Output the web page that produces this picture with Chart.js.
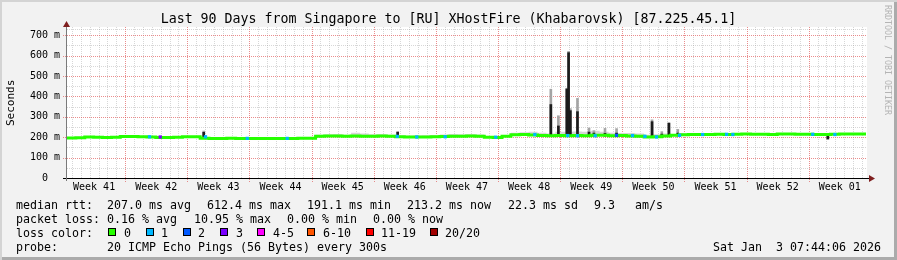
<!DOCTYPE html>
<html lang="en">
<head>
<meta charset="utf-8">
<title>Last 90 Days from Singapore to [RU] XHostFire (Khabarovsk)</title>
<script src="https://cdn.jsdelivr.net/npm/chart.js@4.4.1/dist/chart.umd.min.js"></script>
<style>
  html, body { margin: 0; padding: 0; background: #f2f2f2; }
  #frame {
    position: relative; width: 897px; height: 260px; overflow: hidden;
    background: #f2f2f2;
    box-shadow: inset 2px 2px 0 #d4d4d4, inset -3px -3px 0 #ababab;
    font-family: "DejaVu Sans Mono", monospace; color: #000;
  }
  #chart { position: absolute; left: 0; top: 0; }
  .txt { position: absolute; white-space: pre; font-size: 11.63px; line-height: 14px; }
  #title { position: absolute; left: 0; top: 11px; width: 897px; text-align: center;
           font-size: 13.29px; line-height: 16px; white-space: pre; }
  #ylabel { position: absolute; left: 5px; top: 80px; height: 46px; font-size: 11px; line-height: 12px;
            color: #000; font-weight: normal; white-space: pre;
            writing-mode: vertical-rl; transform: rotate(180deg); }
  #credit { position: absolute; left: 883px; top: 5px; font-size: 8.3px; line-height: 10px;
            color: #b4b4b4; white-space: pre; writing-mode: vertical-rl; }
  .box { position: absolute; width: 8px; height: 8px; box-sizing: border-box; border: 1px solid #000; }
</style>
</head>
<body>
<div id="frame">
  <canvas id="chart" width="897" height="260"></canvas>
  <div id="title">Last 90 Days from Singapore to [RU] XHostFire (Khabarovsk) [87.225.45.1]</div>
  <div id="ylabel">Seconds</div>
  <div id="credit">RRDTOOL / TOBI OETIKER</div>
</div>
<script>
// --- data (x = days since start of the 90 day window, y = milliseconds) ---
const weekLabels = ["Week 41", "Week 42", "Week 43", "Week 44", "Week 45", "Week 46", "Week 47",
                    "Week 48", "Week 49", "Week 50", "Week 51", "Week 52", "Week 01"];

// median rtt, one value per day
const medianMs = [
  202, 196, 197, 201, 200, 199, 200, 203, 203, 202,
  201, 199, 199, 200, 202, 202, 195, 194, 194, 195,
  194, 193, 193, 194, 194, 193, 194, 195, 195, 205,
  206, 206, 205, 206, 205, 205, 206, 204, 202, 201,
  201, 201, 202, 203, 204, 205, 206, 205, 200, 199,
  204, 212, 213, 211, 208, 207, 208, 207, 208, 207,
  209, 209, 207, 208, 206, 204, 201, 202, 206, 209,
  212, 213, 213, 213, 214, 213, 214, 215, 214, 214,
  213, 215, 216, 214, 214, 213, 213, 214, 215, 216
];

// upper edge of the light smoke, one value per day
const smokeHighMs = [
  205, 200, 201, 204, 203, 202, 203, 206, 206, 205,
  204, 202, 202, 203, 205, 205, 198, 197, 197, 198,
  197, 196, 196, 197, 197, 196, 197, 198, 198, 212,
  214, 216, 212, 222, 218, 214, 216, 212, 208, 207,
  208, 210, 211, 213, 215, 214, 215, 213, 205, 204,
  210, 222, 224, 226, 222, 218, 226, 226, 228, 226,
  232, 226, 222, 220, 220, 218, 212, 214, 218, 216,
  220, 218, 218, 218, 219, 218, 219, 220, 219, 219,
  218, 220, 221, 219, 219, 218, 218, 219, 220, 221
];

// dark smoke spikes
const spikeDays   = [15.4, 37.25, 54.5, 55.35, 56.3, 56.5, 56.7, 57.5, 58.8, 59.35, 60.6, 61.9, 65.9, 67.0, 67.8, 68.8, 85.7];
const spikeLowMs  = [200,  200,   205,  205,   205,  205,  205,  205,  205,  205,   205,  205,  204,  200,  204,  206,  191];
const spikeDarkMs = [224,  224,   360,  255,   436,  614,  330,  325,  225,  220,   219,  220,  276,  215,  268,  220,  212];
const spikeTopMs  = [230,  228,   435,  305,   440,  620,  340,  390,  245,  232,   243,  242,  285,  227,  272,  238,  214];

// samples where the median was drawn with a loss colour other than 0
const lossDays   = [9.3, 10.5, 15.6, 20.3, 24.8, 37.2, 39.4, 42.6, 48.3, 52.7, 56.4, 57.5, 59.5, 61.9, 63.7, 65.1, 66.4, 69.0, 71.6, 74.3, 75.0, 84.0, 86.5];
const lossLevels = [1,   3,    1,    1,    1,    1,    1,    1,    1,    1,    1,    1,    1,    2,    1,    1,    1,    1,    1,    1,    1,    1,    1];

const lossNames  = ["0", "1", "2", "3", "4-5", "6-10", "11-19", "20/20"];
const lossColors = ["#26ff00", "#00b8ff", "#0059ff", "#7a00ff", "#ff00ff", "#ff5500", "#ff0000", "#a10000"];

const rttStats  = ["207.0 ms avg", "612.4 ms max", "191.1 ms min", "213.2 ms now", "22.3 ms sd", "9.3", "am/s"];
const lossStats = ["0.16 % avg", "10.95 % max", "0.00 % min", "0.00 % now"];
const probeText = "20 ICMP Echo Pings (56 Bytes) every 300s";
const stampText = "Sat Jan  3 07:44:06 2026";

// --- axis setup ---
const dayCount = 90;
const yMax = 730;
const firstWeekLine = 6.55;
const weekLines = [];
for (let d = firstWeekLine; d < dayCount; d += 7) weekLines.push(d);
const dayLines = [];
for (let d = firstWeekLine % 1; d < dayCount; d += 1) {
  if (!weekLines.some(w => Math.abs(w - d) < 0.01)) dayLines.push(d);
}
const weekMids = weekLabels.map((_, k) => firstWeekLine - 3.5 + 7 * k);

const monoFont = "'DejaVu Sans Mono', monospace";
const minorGrid = "rgba(150,150,150,0.38)";
const majorGrid = "rgba(222,80,80,0.65)";

// --- series built from the arrays ---
const medianPts = medianMs.map((v, i) => ({ x: i, y: v }));
medianPts.push({ x: dayCount, y: medianMs[medianMs.length - 1] });
const smokePts = smokeHighMs.map((v, i) => ({ x: i, y: v }));
smokePts.push({ x: dayCount, y: smokeHighMs[smokeHighMs.length - 1] });
const spikeDarkPts = spikeDays.map((d, i) => ({ x: d, y: [spikeLowMs[i], spikeDarkMs[i]] }));
const spikeTopPts = spikeDays.map((d, i) => ({ x: d, y: [spikeLowMs[i], spikeTopMs[i]] }));
const lossPts = lossDays.map(d => ({ x: d, y: medianMs[Math.floor(d)] }));

// grid, axes and arrows in rrdtool style
const rrdFrame = {
  id: "rrdFrame",
  beforeDraw(chart) {
    const { ctx, chartArea: a } = chart;
    ctx.save();
    ctx.fillStyle = "#ffffff";
    ctx.fillRect(a.left, a.top - 2, a.right - a.left + 1, a.bottom - a.top + 2);
    ctx.restore();
  },
  beforeDatasetsDraw(chart) {
    const { ctx, chartArea: a, scales: { x, y } } = chart;
    ctx.save();
    ctx.lineWidth = 1;
    ctx.setLineDash([1, 1]);

    ctx.strokeStyle = minorGrid;
    ctx.beginPath();
    dayLines.forEach(d => {
      const px = Math.round(x.getPixelForValue(d)) + 0.5;
      ctx.moveTo(px, a.top - 2);
      ctx.lineTo(px, a.bottom);
    });
    for (let v = 50; v < yMax; v += 100) {
      const py = Math.round(y.getPixelForValue(v)) + 0.5;
      ctx.moveTo(a.left, py);
      ctx.lineTo(a.right, py);
    }
    ctx.moveTo(a.left, Math.round(a.top) + 0.5);
    ctx.lineTo(a.right, Math.round(a.top) + 0.5);
    ctx.stroke();

    ctx.strokeStyle = majorGrid;
    ctx.beginPath();
    weekLines.forEach(d => {
      const px = Math.round(x.getPixelForValue(d)) + 0.5;
      ctx.moveTo(px, a.top - 2);
      ctx.lineTo(px, a.bottom + 4);
    });
    for (let v = 100; v < yMax; v += 100) {
      const py = Math.round(y.getPixelForValue(v)) + 0.5;
      ctx.moveTo(a.left - 4, py);
      ctx.lineTo(a.right, py);
    }
    ctx.stroke();
    ctx.restore();
  },
  afterDatasetsDraw(chart) {
    const { ctx, chartArea: a, scales: { y } } = chart;
    const x0 = Math.round(a.left) - 0.5;
    const y0 = Math.round(y.getPixelForValue(0)) + 0.5;
    ctx.save();
    ctx.lineWidth = 1;
    ctx.strokeStyle = "#000000";
    ctx.beginPath();
    ctx.moveTo(a.left - 4, y0);
    ctx.lineTo(a.right + 3, y0);
    ctx.stroke();
    ctx.strokeStyle = "#7a7a7a";
    ctx.beginPath();
    ctx.moveTo(x0, a.bottom + 3);
    ctx.lineTo(x0, a.top - 3);
    ctx.stroke();

    ctx.fillStyle = "#7f1f1f";
    ctx.beginPath();
    ctx.moveTo(a.right + 3, y0 - 3.5);
    ctx.lineTo(a.right + 3, y0 + 3.5);
    ctx.lineTo(a.right + 9, y0);
    ctx.closePath();
    ctx.fill();
    ctx.beginPath();
    ctx.moveTo(x0 - 3.5, a.top - 2);
    ctx.lineTo(x0 + 3.5, a.top - 2);
    ctx.lineTo(x0, a.top - 8);
    ctx.closePath();
    ctx.fill();
    ctx.restore();
  }
};

new Chart(document.getElementById("chart"), {
  type: "line",
  data: {
    datasets: [
      {
        label: "smoke",
        data: smokePts,
        stepped: "after",
        borderWidth: 0,
        pointRadius: 0,
        backgroundColor: "#d6d6d6",
        fill: "+1",
        order: 4
      },
      {
        label: "median rtt",
        data: medianPts,
        stepped: "after",
        borderColor: lossColors[0],
        borderWidth: 3,
        pointRadius: 0,
        fill: false,
        order: 1
      },
      {
        type: "bar",
        label: "smoke top",
        data: spikeTopPts,
        backgroundColor: "#a4a4a4",
        barThickness: 2,
        grouped: false,
        order: 3
      },
      {
        type: "bar",
        label: "smoke dark",
        data: spikeDarkPts,
        backgroundColor: "#1c1c1c",
        barThickness: 2,
        grouped: false,
        order: 2
      },
      {
        label: "loss",
        data: lossPts,
        showLine: false,
        pointStyle: "rect",
        pointRadius: 2.3,
        pointBorderWidth: 0,
        pointBackgroundColor: lossLevels.map(l => lossColors[l]),
        order: 0
      }
    ]
  },
  options: {
    responsive: false,
    devicePixelRatio: 1,
    animation: false,
    events: [],
    layout: { padding: { top: 29, left: 0, right: 31, bottom: 68 } },
    plugins: {
      legend: { display: false },
      tooltip: { enabled: false },
      title: { display: false }
    },
    scales: {
      x: {
        type: "linear",
        min: 0,
        max: dayCount,
        offset: false,
        grid: { display: false, drawTicks: false },
        border: { display: false },
        afterBuildTicks: scale => {
          const ticks = dayLines.concat(weekLines).map(v => ({ value: v }));
          weekMids.forEach((v, k) => ticks.push({ value: v, week: weekLabels[k] }));
          ticks.sort((p, q) => p.value - q.value);
          scale.ticks = ticks;
        },
        afterFit: scale => { scale.height = 14; },
        ticks: {
          autoSkip: false,
          maxRotation: 0,
          padding: 3,
          color: "#000000",
          font: { family: monoFont, size: 10 },
          callback: (v, i, ticks) => ticks[i].week || ""
        }
      },
      y: {
        min: 0,
        max: yMax,
        grid: { display: false, drawTicks: false },
        border: { display: false },
        afterFit: scale => { scale.width = 67; },
        ticks: {
          stepSize: 100,
          includeBounds: false,
          padding: 7,
          color: "#000000",
          font: { family: monoFont, size: 10 },
          callback: v => (v === 0 ? "0  " : v + " m")
        }
      }
    }
  },
  plugins: [rrdFrame]
});

// --- legend lines under the chart ---
const frame = document.getElementById("frame");
function put(left, top, text, extra) {
  const el = document.createElement("div");
  el.className = "txt";
  el.style.left = left + "px";
  el.style.top = top + "px";
  el.textContent = text;
  if (extra) Object.assign(el.style, extra);
  frame.appendChild(el);
  return el;
}
const rowTop = [197.5, 211.5, 225.5, 239.5];

put(16, rowTop[0], "median rtt:");
[107, 207, 307, 407, 508, 594, 635].forEach((x, i) => put(x, rowTop[0], rttStats[i]));

put(16, rowTop[1], "packet loss:");
[107, 194, 287, 373].forEach((x, i) => put(x, rowTop[1], lossStats[i]));

put(16, rowTop[2], "loss color:");
const boxX = [108, 146, 183, 220, 257, 307, 366, 430];
const nameX = [124, 161, 198, 236, 273, 323, 381, 445];
lossNames.forEach((name, i) => {
  const b = document.createElement("div");
  b.className = "box";
  b.style.left = boxX[i] + "px";
  b.style.top = "228px";
  b.style.background = lossColors[i];
  frame.appendChild(b);
  put(nameX[i], rowTop[2], name);
});

put(16, rowTop[3], "probe:");
put(107, rowTop[3], probeText);
put(0, rowTop[3], stampText, { left: "auto", right: "16px" });
</script>
</body>
</html>
